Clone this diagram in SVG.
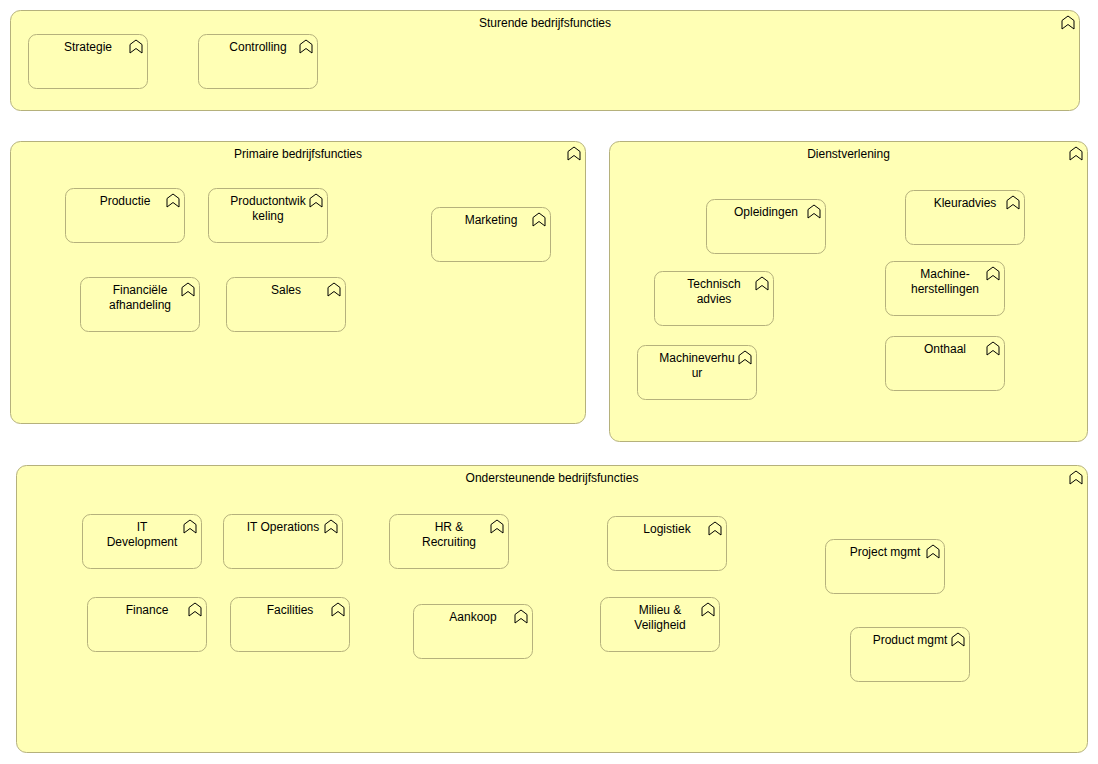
<svg xmlns="http://www.w3.org/2000/svg" xmlns:xlink="http://www.w3.org/1999/xlink" width="1098" height="764" viewBox="0 0 1098 764">
<style>
.grp{fill:#ffffb5;stroke:#b5b17c;stroke-width:1}
.box{fill:#ffffb5;stroke:#b5b17c;stroke-width:1}
.t{font-family:"Liberation Sans",Arial,sans-serif;font-size:12px;fill:#000;text-anchor:middle}
.ic{fill:none;stroke:#000;stroke-width:1;stroke-linejoin:miter}
</style>
<defs>
<path id="fn" class="ic" d="M0.5,5 L6.5,0.5 L12.5,5 L12.5,13.5 L6.5,9 L0.5,13.5 Z"/>
</defs>
<rect width="1098" height="764" fill="#ffffff"/>

<g id="sturende">
<rect class="grp" x="10.5" y="10.5" width="1069" height="100" rx="10"/>
<text class="t" x="545" y="27">Sturende bedrijfsfuncties</text>
<use xlink:href="#fn" href="#fn" x="1061.5" y="15.5"/>
</g>
<g id="primaire">
<rect class="grp" x="10.5" y="141.5" width="575" height="282" rx="10"/>
<text class="t" x="298" y="158">Primaire bedrijfsfuncties</text>
<use xlink:href="#fn" href="#fn" x="567.5" y="146.5"/>
</g>
<g id="dienstverlening">
<rect class="grp" x="609.5" y="141.5" width="478" height="300" rx="10"/>
<text class="t" x="848.5" y="158">Dienstverlening</text>
<use xlink:href="#fn" href="#fn" x="1069.5" y="146.5"/>
</g>
<g id="ondersteunende">
<rect class="grp" x="16.5" y="465.5" width="1071" height="287" rx="10"/>
<text class="t" x="552" y="482">Ondersteunende bedrijfsfuncties</text>
<use xlink:href="#fn" href="#fn" x="1069.5" y="470.5"/>
</g>

<g id="strategie"><rect class="box" x="28.5" y="34.5" width="119" height="54" rx="8"/><text class="t" x="88" y="51">Strategie</text><use xlink:href="#fn" href="#fn" x="129.5" y="39.5"/></g>
<g id="controlling"><rect class="box" x="198.5" y="34.5" width="119" height="54" rx="8"/><text class="t" x="258" y="51">Controlling</text><use xlink:href="#fn" href="#fn" x="299.5" y="39.5"/></g>

<g id="productie"><rect class="box" x="65.5" y="188.5" width="119" height="54" rx="8"/><text class="t" x="125" y="205">Productie</text><use xlink:href="#fn" href="#fn" x="166.5" y="193.5"/></g>
<g id="productontwikkeling"><rect class="box" x="208.5" y="188.5" width="119" height="54" rx="8"/><text class="t" x="268" y="205">Productontwik</text><text class="t" x="268" y="220">keling</text><use xlink:href="#fn" href="#fn" x="309.5" y="193.5"/></g>
<g id="financiele"><rect class="box" x="80.5" y="277.5" width="119" height="54" rx="8"/><text class="t" x="140" y="294">Financiële</text><text class="t" x="140" y="309">afhandeling</text><use xlink:href="#fn" href="#fn" x="181.5" y="282.5"/></g>
<g id="sales"><rect class="box" x="226.5" y="277.5" width="119" height="54" rx="8"/><text class="t" x="286" y="294">Sales</text><use xlink:href="#fn" href="#fn" x="327.5" y="282.5"/></g>
<g id="marketing"><rect class="box" x="431.5" y="207.5" width="119" height="54" rx="8"/><text class="t" x="491" y="224">Marketing</text><use xlink:href="#fn" href="#fn" x="532.5" y="212.5"/></g>

<g id="opleidingen"><rect class="box" x="706.5" y="199.5" width="119" height="54" rx="8"/><text class="t" x="766" y="216">Opleidingen</text><use xlink:href="#fn" href="#fn" x="807.5" y="204.5"/></g>
<g id="kleuradvies"><rect class="box" x="905.5" y="190.5" width="119" height="54" rx="8"/><text class="t" x="965" y="207">Kleuradvies</text><use xlink:href="#fn" href="#fn" x="1006.5" y="195.5"/></g>
<g id="technisch"><rect class="box" x="654.5" y="271.5" width="119" height="54" rx="8"/><text class="t" x="714" y="288">Technisch</text><text class="t" x="714" y="303">advies</text><use xlink:href="#fn" href="#fn" x="755.5" y="276.5"/></g>
<g id="machineherstellingen"><rect class="box" x="885.5" y="261.5" width="119" height="54" rx="8"/><text class="t" x="945" y="278">Machine-</text><text class="t" x="945" y="293">herstellingen</text><use xlink:href="#fn" href="#fn" x="986.5" y="266.5"/></g>
<g id="machineverhuur"><rect class="box" x="637.5" y="345.5" width="119" height="54" rx="8"/><text class="t" x="697" y="362">Machineverhu</text><text class="t" x="697" y="377">ur</text><use xlink:href="#fn" href="#fn" x="738.5" y="350.5"/></g>
<g id="onthaal"><rect class="box" x="885.5" y="336.5" width="119" height="54" rx="8"/><text class="t" x="945" y="353">Onthaal</text><use xlink:href="#fn" href="#fn" x="986.5" y="341.5"/></g>

<g id="itdevelopment"><rect class="box" x="82.5" y="514.5" width="119" height="54" rx="8"/><text class="t" x="142" y="531">IT</text><text class="t" x="142" y="546">Development</text><use xlink:href="#fn" href="#fn" x="183.5" y="519.5"/></g>
<g id="itoperations"><rect class="box" x="223.5" y="514.5" width="119" height="54" rx="8"/><text class="t" x="283" y="531">IT Operations</text><use xlink:href="#fn" href="#fn" x="324.5" y="519.5"/></g>
<g id="hr"><rect class="box" x="389.5" y="514.5" width="119" height="54" rx="8"/><text class="t" x="449" y="531">HR &amp;</text><text class="t" x="449" y="546">Recruiting</text><use xlink:href="#fn" href="#fn" x="490.5" y="519.5"/></g>
<g id="logistiek"><rect class="box" x="607.5" y="516.5" width="119" height="54" rx="8"/><text class="t" x="667" y="533">Logistiek</text><use xlink:href="#fn" href="#fn" x="708.5" y="521.5"/></g>
<g id="projectmgmt"><rect class="box" x="825.5" y="539.5" width="119" height="54" rx="8"/><text class="t" x="885" y="556">Project mgmt</text><use xlink:href="#fn" href="#fn" x="926.5" y="544.5"/></g>
<g id="finance"><rect class="box" x="87.5" y="597.5" width="119" height="54" rx="8"/><text class="t" x="147" y="614">Finance</text><use xlink:href="#fn" href="#fn" x="188.5" y="602.5"/></g>
<g id="facilities"><rect class="box" x="230.5" y="597.5" width="119" height="54" rx="8"/><text class="t" x="290" y="614">Facilities</text><use xlink:href="#fn" href="#fn" x="331.5" y="602.5"/></g>
<g id="aankoop"><rect class="box" x="413.5" y="604.5" width="119" height="54" rx="8"/><text class="t" x="473" y="621">Aankoop</text><use xlink:href="#fn" href="#fn" x="514.5" y="609.5"/></g>
<g id="milieu"><rect class="box" x="600.5" y="597.5" width="119" height="54" rx="8"/><text class="t" x="660" y="614">Milieu &amp;</text><text class="t" x="660" y="629">Veiligheid</text><use xlink:href="#fn" href="#fn" x="701.5" y="602.5"/></g>
<g id="productmgmt"><rect class="box" x="850.5" y="627.5" width="119" height="54" rx="8"/><text class="t" x="910" y="644">Product mgmt</text><use xlink:href="#fn" href="#fn" x="951.5" y="632.5"/></g>

<g id="connectors"/>
</svg>
